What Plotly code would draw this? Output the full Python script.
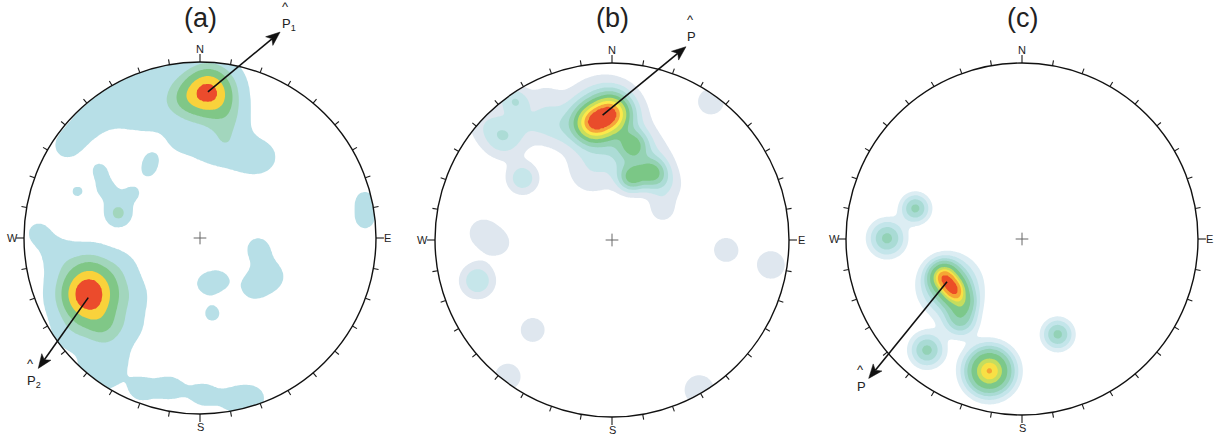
import numpy as np
import plotly.graph_objects as go

W, H = 1218, 438
PANEL_TITLES = ["(a)", "(b)", "(c)"]

# ---------------- data: pole-density kernels (projection units, weight, spread) -------------
# Panel (a)
A_X = [0.047, -0.11, -0.76, -0.64, -0.51, -0.38, -0.27, -0.40, -0.25,
       -0.11, 0.04, 0.15, 0.27, 0.36, 0.17, 0.17,
       -0.70, -0.568, -0.53, -0.464, -0.379, -0.294, -0.275,
       0.9375, 0.9375,
       0.33, 0.41, 0.30,
       0.03, 0.11, 0.07,
       -0.34, -0.17, 0.02, 0.20, 0.31,
       -0.635, -0.55,
       -0.92, -0.80, -0.62, -0.45, -0.38, -0.40, -0.48, -0.74, -0.62, -0.55]
A_Y = [0.831, 0.78, 0.52, 0.65, 0.75, 0.73, 0.71, 0.88, 0.94,
       0.56, 0.52, 0.50, 0.46, 0.46, 0.70, 0.60,
       0.263, 0.386, 0.273, 0.14, 0.254, 0.386, 0.453,
       0.216, 0.102,
       -0.06, -0.22, -0.28,
       -0.26, -0.24, -0.43,
       -0.86, -0.85, -0.89, -0.92, -0.91,
       -0.32, -0.52,
       0.03, -0.10, -0.13, -0.17, -0.33, -0.50, -0.68, -0.55, -0.74, -0.80]
A_W = [8.9, 2.0, 1.2, 1.2, 1.2, 1.2, 1.2, 1.2, 1.2,
       1.2, 1.2, 1.2, 1.2, 1.2, 1.2, 1.2,
       1.1, 1.1, 1.3, 3.5, 1.2, 1.2, 1.0,
       1.3, 1.3,
       1.35, 1.35, 1.35,
       1.3, 1.3, 1.3,
       1.3, 1.3, 1.3, 1.3, 1.2,
       10.0, 2.5,
       1.2, 1.2, 1.2, 1.2, 1.2, 1.2, 1.2, 1.2, 1.2, 1.1]
A_S = [0.11, 0.08, 0.09, 0.09, 0.09, 0.09, 0.09, 0.09, 0.09,
       0.08, 0.08, 0.08, 0.08, 0.08, 0.08, 0.08,
       0.05, 0.05, 0.06, 0.05, 0.05, 0.05, 0.04,
       0.06, 0.06,
       0.075, 0.075, 0.07,
       0.055, 0.055, 0.055,
       0.075, 0.075, 0.075, 0.075, 0.07,
       0.12, 0.08,
       0.08, 0.08, 0.08, 0.08, 0.08, 0.08, 0.08, 0.08, 0.08, 0.065]
A_LEVELS = [1.0, 3.0, 4.5, 6.5, 8.3]
A_COLORS = ['#ffffff', '#b7dfe7', '#a2d6bd', '#80c787', '#f9d23b', '#eb4b2c']

# Panel (b)
B_X = [-0.11, 0.00, -0.05, 0.12, 0.23, 0.11, 0.12, 0.20, 0.30,
       -0.61, -0.54, -0.72, -0.44, -0.30, -0.60, -0.38,
       -0.505, -0.119, 0.559, 0.286,
       -0.73, -0.64, -0.76,
       0.644, 0.898, -0.448, -0.589, 0.493]
B_Y = [0.66, 0.72, 0.68, 0.54, 0.38, 0.35, 0.45, 0.45, 0.30,
       0.58, 0.78, 0.66, 0.66, 0.64, 0.82, 0.80,
       0.348, 0.386, 0.782, 0.169,
       0.04, -0.02, -0.23,
       -0.056, -0.141, -0.508, -0.772, -0.847]
B_W = [3.9, 3.9, 2.2, 1.9, 2.3, 2.2, 0.8, 0.5, 0.6,
       1.2, 0.9, 0.5, 0.6, 0.7, 0.5, 0.4,
       1.2, 0.6, 0.6, 0.6,
       0.6, 0.5, 1.3,
       0.6, 0.6, 0.6, 0.6, 0.6]
B_S = [0.07, 0.07, 0.13, 0.055, 0.055, 0.05, 0.09, 0.12, 0.07,
       0.08, 0.05, 0.08, 0.08, 0.08, 0.07, 0.07,
       0.06, 0.10, 0.07, 0.05,
       0.07, 0.06, 0.065,
       0.065, 0.075, 0.065, 0.07, 0.08]
B_LEVELS = [0.35, 0.8, 1.3, 1.9, 2.6, 3.4, 4.3, 5.1, 5.9]
B_COLORS = ['#ffffff', '#dfe7ef', '#c6e6ea', '#acdcd6', '#94d2b3', '#7bc786',
            '#c9df5c', '#fbe94b', '#f6a53b', '#e94c2b']

# Panel (c)
C_X = [-0.606, -0.767, -0.54, 0.203, -0.185, -0.445, -0.388, -0.41, -0.34, -0.35]
C_Y = [0.174, 0.004, -0.631, -0.542, -0.75, -0.214, -0.286, -0.27, -0.36, -0.46]
C_W = [1.6, 1.6, 1.6, 1.6, 5.0, 4.2, 3.8, 2.0, 1.8, 1.5]
C_S = [0.053, 0.066, 0.062, 0.056, 0.08, 0.05, 0.045, 0.10, 0.05, 0.06]
C_LEVELS = [0.3, 0.6, 1.0, 1.45, 2.2, 3.4, 4.2, 4.9, 6.0]
C_COLORS = ['#ffffff', '#dcedf3', '#c3e5ea', '#a9dbd5', '#93d2b6', '#7cc88a',
            '#c5dd5e', '#f8e045', '#f5a534', '#ec4e26']

# principal directions (tail at density maximum, head outside the net)
ARROWS = [
    [(0.045, 0.83, 0.455, 1.17), (-0.635, -0.339, -0.919, -0.741)],
    [(-0.053, 0.706, 0.418, 1.092)],
    [(-0.426, -0.243, -0.871, -0.792)],
]
ARROW_LABELS = [["^<br>P<sub>1</sub>", "^<br>P<sub>2</sub>"], ["^<br>P"], ["^<br>P"]]

TICK_DEG = list(range(0, 360, 10))
CARDINALS = [("N", 0), ("E", 90), ("S", 180), ("W", 270)]

# ---------------- layout geometry ----------------
GEOM = [(200, 238, 176), (612, 240, 177), (1022, 239, 176)]
LABEL_POS = [[(0.452, 1.262), (-0.992, -0.765)],
             [(0.415, 1.20)],
             [(-0.948, -0.79)]]
HEAD_LEN, HEAD_HALF = 0.08, 0.032

DATA = [(A_X, A_Y, A_W, A_S, A_LEVELS, A_COLORS),
        (B_X, B_Y, B_W, B_S, B_LEVELS, B_COLORS),
        (C_X, C_Y, C_W, C_S, C_LEVELS, C_COLORS)]

g = np.linspace(-1.04, 1.04, 261)
GX, GY = np.meshgrid(g, g)


def density(xs, ys, ws, ss):
    z = np.zeros_like(GX)
    for x, y, w, s in zip(xs, ys, ws, ss):
        z += w * np.exp(-((GX - x) ** 2 + (GY - y) ** 2) / (2 * s * s))
    return z


fig = go.Figure()
annotations = []
shapes = []
layout_axes = {}
FONT = "Liberation Sans, Arial"

for i in range(3):
    xs, ys, ws, ss, levels, colors = DATA[i]
    cx, cy, R = GEOM[i]
    ax = "" if i == 0 else str(i + 1)
    xref, yref = "x" + ax, "y" + ax
    x0p, x1p = i * 406, (i + 1) * 406
    layout_axes["xaxis" + ax] = dict(domain=[x0p / W, x1p / W],
                                     range=[(x0p - cx) / R, (x1p - cx) / R],
                                     visible=False, anchor=yref, fixedrange=True)
    layout_axes["yaxis" + ax] = dict(domain=[0, 1], range=[(cy - H) / R, cy / R],
                                     visible=False, anchor=xref, fixedrange=True)

    z = density(xs, ys, ws, ss)
    n = len(levels)
    zi = np.interp(z, [0.0] + levels + [levels[-1] * 2], list(range(n + 1)) + [n + 1])
    zi[np.hypot(GX, GY) > 1.03] = 0
    zi = np.round(zi, 3)
    fig.add_trace(go.Contour(
        x=g, y=g, z=zi, xaxis=xref, yaxis=yref,
        autocontour=False,
        contours=dict(start=1, end=n, size=1, coloring="fill", showlines=False),
        line=dict(width=0, smoothing=1.0),
        colorscale=[[k / n, colors[k]] for k in range(n + 1)],
        showscale=False, hoverinfo="skip"))

    # white mask outside the primitive circle
    t = np.radians(np.linspace(-90, -450, 361))
    Sq = 4
    mx = [0, Sq, Sq, -Sq, -Sq, 0, 0] + list(np.cos(t)) + [0]
    my = [-Sq, -Sq, Sq, Sq, -Sq, -Sq, -1] + list(np.sin(t)) + [-Sq]
    fig.add_trace(go.Scatter(x=mx, y=my, xaxis=xref, yaxis=yref, mode="lines",
                             fill="toself", fillcolor="white", line=dict(width=0),
                             hoverinfo="skip", showlegend=False))

    # ticks
    tx, ty = [], []
    for d in TICK_DEG:
        a = np.radians(d)
        L = 1.045 if d % 90 == 0 else 1.03
        tx += [np.sin(a), L * np.sin(a), None]
        ty += [np.cos(a), L * np.cos(a), None]
    fig.add_trace(go.Scatter(x=tx, y=ty, xaxis=xref, yaxis=yref, mode="lines",
                             line=dict(color="#1a1a1a", width=1.1),
                             hoverinfo="skip", showlegend=False))
    # centre cross
    c = 0.036
    fig.add_trace(go.Scatter(x=[-c, c, None, 0, 0], y=[0, 0, None, -c, c],
                             xaxis=xref, yaxis=yref, mode="lines",
                             line=dict(color="#666666", width=1),
                             hoverinfo="skip", showlegend=False))

    # principal-direction arrows: shaft + filled head along the shaft direction
    for k, (x0a, y0a, x1a, y1a) in enumerate(ARROWS[i]):
        dx, dy = x1a - x0a, y1a - y0a
        ln = np.hypot(dx, dy)
        ux, uy = dx / ln, dy / ln
        bx, by = x1a - HEAD_LEN * ux, y1a - HEAD_LEN * uy
        fig.add_trace(go.Scatter(x=[x0a, bx + 0.02 * ux], y=[y0a, by + 0.02 * uy],
                                 xaxis=xref, yaxis=yref, mode="lines", cliponaxis=False,
                                 line=dict(color="#111111", width=1.6),
                                 hoverinfo="skip", showlegend=False))
        hx = [x1a, bx - HEAD_HALF * uy, bx + 0.25 * HEAD_LEN * ux,
              bx + HEAD_HALF * uy, x1a]
        hy = [y1a, by + HEAD_HALF * ux, by + 0.25 * HEAD_LEN * uy,
              by - HEAD_HALF * ux, y1a]
        fig.add_trace(go.Scatter(x=hx, y=hy, xaxis=xref, yaxis=yref, mode="lines",
                                 fill="toself", fillcolor="#111111",
                                 line=dict(color="#111111", width=0.5),
                                 hoverinfo="skip", showlegend=False))
        px_, py_ = LABEL_POS[i][k]
        annotations.append(dict(text=ARROW_LABELS[i][k], x=px_, y=py_, xref=xref,
                                yref=yref, showarrow=False, xanchor="left",
                                yanchor="middle", align="left",
                                font=dict(family=FONT, size=13, color="#222222")))

    shapes.append(dict(type="circle", xref=xref, yref=yref, x0=-1, x1=1, y0=-1, y1=1,
                       line=dict(color="#111111", width=1.4), layer="above"))

    for lab, d in CARDINALS:
        a = np.radians(d)
        annotations.append(dict(text=lab, x=1.068 * np.sin(a), y=1.072 * np.cos(a),
                                xref=xref, yref=yref, showarrow=False,
                                font=dict(family=FONT, size=11, color="#222222")))
    annotations.append(dict(text=PANEL_TITLES[i], x=0.0, y=(cy - 18) / R,
                            xref=xref, yref=yref, showarrow=False,
                            font=dict(family=FONT, size=27, color="#222222")))

fig.update_layout(width=W, height=H, margin=dict(l=0, r=0, t=0, b=0),
                  paper_bgcolor="white", plot_bgcolor="white", showlegend=False,
                  annotations=annotations, shapes=shapes, **layout_axes)
fig.write_html("out.html")
